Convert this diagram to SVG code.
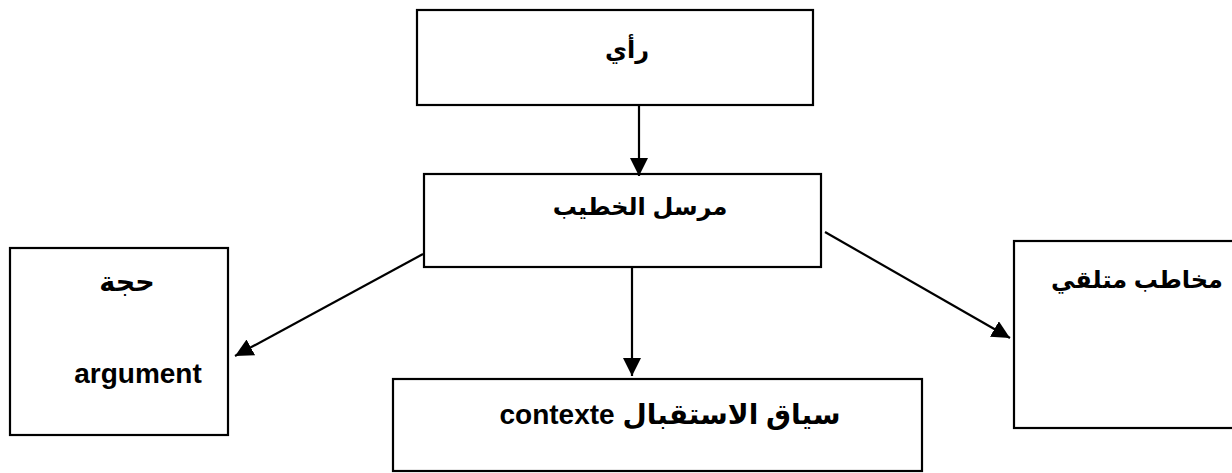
<svg xmlns="http://www.w3.org/2000/svg" width="1232" height="473" viewBox="0 0 1232 473">
<style>
.box{fill:#fff;stroke:#000;stroke-width:2.2}
.t{font-family:"Liberation Sans","DejaVu Sans",Arial,sans-serif;font-weight:bold;font-size:28px;fill:#000}
.ar{font-size:24px}
.c{stroke:#000;stroke-width:2.2;fill:none}
</style>
<defs>
<marker id="ah" markerUnits="userSpaceOnUse" markerWidth="18" markerHeight="18" viewBox="0 0 16 16" refX="16" refY="8" orient="auto">
<path d="M0,0 L16,8 L0,16 Z" fill="#000"/>
</marker>
</defs>
<rect width="1232" height="473" fill="#fff"/>
<g id="n-rai">
<rect class="box" x="417" y="10" width="396" height="95"/>
<text class="t ar" x="627" y="58" text-anchor="middle" direction="rtl">رأي</text>
</g>
<g id="n-mursil">
<rect class="box" x="424" y="174" width="397" height="93"/>
<text class="t ar" x="640" y="215" text-anchor="middle" direction="rtl">مرسل الخطيب</text>
</g>
<g id="n-hujja">
<rect class="box" x="10" y="248" width="218" height="187"/>
<text class="t" x="127" y="291" text-anchor="middle" direction="rtl" style="font-size:27px">حجة</text>
<text class="t" x="138" y="383" text-anchor="middle">argument</text>
</g>
<g id="n-siyaq">
<rect class="box" x="393" y="379" width="529" height="92"/>
<text class="t" x="670" y="424" text-anchor="middle" direction="rtl">سياق الاستقبال contexte</text>
</g>
<g id="n-mukhatab">
<rect class="box" x="1014" y="241" width="230" height="187"/>
<text class="t ar" x="1137" y="288" text-anchor="middle" direction="rtl">مخاطب متلقي</text>
</g>
<g id="connectors">
<line class="c" x1="639" y1="105" x2="639" y2="176" marker-end="url(#ah)"/>
<line class="c" x1="632" y1="267" x2="632" y2="376" marker-end="url(#ah)"/>
<line class="c" x1="423" y1="254" x2="235" y2="356" marker-end="url(#ah)"/>
<line class="c" x1="825" y1="232" x2="1010" y2="338" marker-end="url(#ah)"/>
</g>
</svg>
